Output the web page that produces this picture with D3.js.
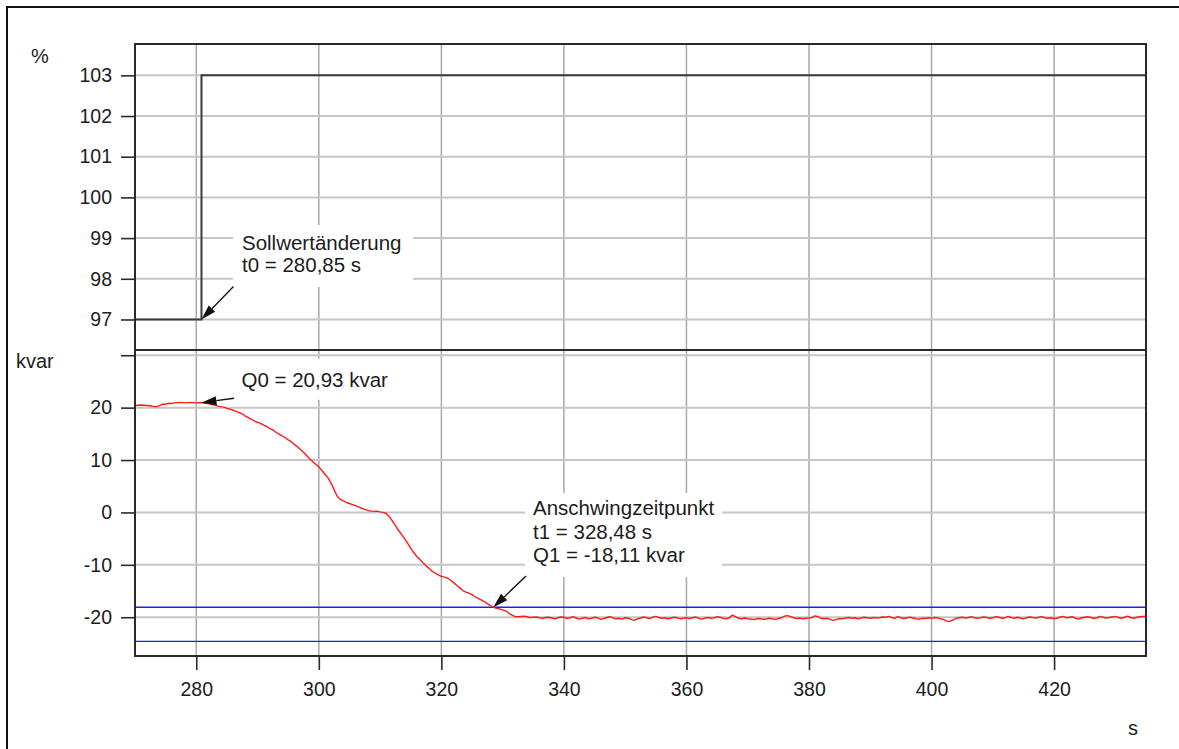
<!DOCTYPE html>
<html>
<head>
<meta charset="utf-8">
<script src="https://cdn.jsdelivr.net/npm/d3@7"></script>
<style>
  html, body { margin: 0; padding: 0; background: #fff; }
  svg { display: block; }
  text { font-family: "Liberation Sans", Arial, Helvetica, sans-serif; fill: #1c1c1c; }
</style>
</head>
<body>
<svg id="chart" width="1179" height="749"></svg>
<script>
// Voltage setpoint (%) – a single step at t0
const setpointTime  = [270, 280.85, 280.85, 435];
const setpointValue = [97, 97, 103, 103];

// Measured reactive power (kvar), sampled every 0.5 s from 270 s
const qStart = 270;
const qPeriod = 0.5;
const qValues = [
  20.4, 20.45, 20.5, 20.45, 20.4, 20.35, 20.25, 20.2, 20.4, 20.65, 20.7, 20.8, 20.8, 20.9, 20.95, 21.0, 20.95, 20.9, 21.0, 20.95,
  20.9, 20.95, 20.93, 20.85, 20.8, 20.6, 20.5, 20.3, 20.2, 20.1, 19.85, 19.7, 19.5, 19.3, 19.05, 18.8, 18.4, 18.1, 17.75, 17.45,
  17.2, 17.0, 16.65, 16.4, 16.0, 15.75, 15.3, 14.95, 14.6, 14.3, 13.85, 13.5, 12.95, 12.55, 12.0, 11.5, 10.85, 10.25, 9.7, 9.2,
  8.7, 8.0, 7.3, 6.6, 5.6, 4.3, 3.1, 2.5, 2.2, 1.9, 1.7, 1.5, 1.3, 1.05, 0.8, 0.6, 0.4, 0.25, 0.2, 0.25,
  0.1, 0.0, -0.2, -0.8, -1.6, -2.5, -3.4, -4.2, -5.0, -5.9, -6.8, -7.7, -8.4, -9.0, -9.6, -10.2, -10.7, -11.2, -11.6, -11.9,
  -12.2, -12.35, -12.55, -12.9, -13.4, -13.9, -14.4, -14.9, -15.2, -15.4, -15.7, -16.1, -16.4, -16.7, -17.0, -17.4, -17.8, -18.11, -18.3, -18.4,
  -18.6, -18.8, -19.2, -19.6, -19.85, -19.9, -19.85, -19.8, -19.9, -20.05, -20.0, -19.95, -20.1, -20.2, -20.05, -20.0, -20.15, -20.3, -20.1, -19.95,
  -20.0, -20.2, -20.1, -19.9, -20.15, -20.35, -20.2, -20.05, -20.3, -20.2, -20.0, -20.1, -20.4, -20.25, -20.05, -19.9, -20.1, -20.3, -20.2, -20.35,
  -20.1, -20.2, -20.4, -20.6, -20.3, -20.15, -19.95, -20.1, -20.25, -20.0, -19.85, -20.05, -20.2, -20.1, -20.3, -20.15, -20.0, -20.1, -20.3, -20.2,
  -20.1, -20.25, -20.1, -19.95, -20.2, -20.35, -20.15, -20.05, -20.2, -20.1, -19.9, -20.0, -20.2, -20.3, -20.1, -19.6, -19.9, -20.2, -20.3, -20.15,
  -20.3, -20.35, -20.45, -20.3, -20.25, -20.4, -20.35, -20.2, -20.3, -20.4, -20.25, -20.1, -19.8, -19.7, -19.9, -20.1, -20.25, -20.15, -20.3, -20.2,
  -20.15, -20.05, -19.75, -19.9, -20.2, -20.3, -20.2, -20.45, -20.6, -20.4, -20.25, -20.3, -20.15, -20.05, -20.2, -20.1, -20.3, -20.15, -20.0, -20.1,
  -20.2, -20.05, -20.15, -20.1, -19.95, -20.0, -19.85, -20.05, -20.2, -19.9, -20.1, -20.25, -20.1, -20.0, -20.15, -20.3, -20.35, -20.2, -20.25, -20.1,
  -20.2, -20.05, -20.1, -20.3, -20.45, -20.75, -20.8, -20.5, -20.2, -20.1, -20.0, -20.15, -20.05, -19.9, -20.1, -20.2, -20.1, -19.95, -20.05, -20.2,
  -20.1, -19.9, -20.0, -20.2, -20.1, -19.85, -20.05, -20.2, -20.0, -20.15, -20.3, -20.1, -19.95, -20.05, -20.15, -20.0, -19.9, -20.1, -20.2, -20.1,
  -20.25, -20.2, -19.95, -19.85, -20.1, -20.0, -19.9, -20.2, -20.35, -20.1, -20.0, -19.9, -20.05, -20.2, -20.1, -19.85, -20.0, -20.15, -20.05, -19.95,
  -19.85, -20.05, -20.2, -20.0, -19.8, -20.05, -20.2, -20.0, -19.9, -19.85, -19.8
];

// Settling band limits (kvar)
const bandLimits = [-18.11, -24.6];

// Marked events
const t0 = 280.85, q0 = 20.93;
const t1 = 328.48, q1 = -18.11;

// Axis ticks
const timeTicks  = [280, 300, 320, 340, 360, 380, 400, 420];
const pctTicks   = [97, 98, 99, 100, 101, 102, 103];
const kvarTicks  = [-20, -10, 0, 10, 20, 30];
const kvarLabels = ["-20", "-10", "0", "10", "20", ""];

// ---------------------------------------------------------------
const svg = d3.select("#chart");
const L = 135, R = 1146, T = 44, MID = 350, B = 656;

const x    = d3.scaleLinear().domain([270, 435]).range([L, R]);
const yPct = d3.scaleLinear().domain([96.25, 103.77]).range([MID, T]);
const yQ   = d3.scaleLinear().domain([-27.4, 31.0]).range([B, MID]);

// Page frame
svg.append("rect")
  .attr("x", 7).attr("y", 7).attr("width", 1300).attr("height", 900)
  .attr("fill", "none").attr("stroke", "#111").attr("stroke-width", 2);

const grid = svg.append("g");
// vertical grid in both panels
grid.selectAll("line.v").data(timeTicks).join("line")
  .attr("x1", d => x(d)).attr("x2", d => x(d))
  .attr("y1", T).attr("y2", B)
  .attr("stroke", "#a9a9a9").attr("stroke-width", 1.5);
// horizontal grid, upper panel
grid.selectAll("line.hp").data(pctTicks).join("line")
  .attr("x1", L).attr("x2", R)
  .attr("y1", d => yPct(d)).attr("y2", d => yPct(d))
  .attr("stroke", "#c6c6c6").attr("stroke-width", 2);
// horizontal grid, lower panel
grid.selectAll("line.hq").data(kvarTicks).join("line")
  .attr("x1", L).attr("x2", R)
  .attr("y1", d => yQ(d)).attr("y2", d => yQ(d))
  .attr("stroke", "#c6c6c6").attr("stroke-width", 2);

// Annotations: white label boxes, arrows and text
const annotations = [
  { tip: [x(t0), yPct(97)], tail: [32, -33], text: [40.5, -69.5], gap: 22,
    box: [31.5, -94.5, 180, 62],
    lines: ["Sollwertänderung", "t0 = 280,85 s"] },
  { tip: [x(t0), yQ(q0)], tail: [32.5, -4.5], text: [40, -16], gap: 22,
    box: [30.5, -44, 168, 41],
    lines: ["Q0 = 20,93 kvar"] },
  { tip: [x(t1), yQ(q1)], tail: [32.7, -31.3], text: [39.7, -92.3], gap: 23.5,
    box: [31.7, -114.3, 197, 84],
    lines: ["Anschwingzeitpunkt", "t1 = 328,48 s", "Q1 = -18,11 kvar"] }
];

svg.append("g").selectAll("rect").data(annotations).join("rect")
  .attr("x", d => d.tip[0] + d.box[0]).attr("y", d => d.tip[1] + d.box[1])
  .attr("width", d => d.box[2]).attr("height", d => d.box[3])
  .attr("fill", "#fff");

// Band limits
svg.append("g").selectAll("line").data(bandLimits).join("line")
  .attr("x1", L).attr("x2", R)
  .attr("y1", d => yQ(d)).attr("y2", d => yQ(d))
  .attr("stroke", "#1f1fff").attr("stroke-width", 1.4);

// Setpoint step
const setpointPts = setpointTime.map((t, i) => [t, setpointValue[i]]);
svg.append("path")
  .datum(setpointPts)
  .attr("fill", "none").attr("stroke", "#3a3a3a").attr("stroke-width", 2)
  .attr("d", d3.line().x(d => x(d[0])).y(d => yPct(d[1])));

// Reactive power
const qPts = qValues.map((v, i) => [qStart + i * qPeriod, v]);
svg.append("path")
  .datum(qPts)
  .attr("fill", "none").attr("stroke", "#ff1a1a").attr("stroke-width", 1.4)
  .attr("stroke-linejoin", "round")
  .attr("d", d3.line().x(d => x(d[0])).y(d => yQ(d[1])));

// Panel frames
const frame = svg.append("g").attr("fill", "none").attr("stroke", "#2a2a2a").attr("stroke-width", 2);
frame.append("rect").attr("x", L).attr("y", T).attr("width", R - L).attr("height", MID - T);
frame.append("rect").attr("x", L).attr("y", MID).attr("width", R - L).attr("height", B - MID);

// Axes
const fontSize = "19.5px";
function styleAxis(g) {
  g.select(".domain").remove();
  g.selectAll(".tick line").attr("stroke", "#2a2a2a").attr("stroke-width", 1.6);
  g.selectAll(".tick text")
    .attr("font-family", "'Liberation Sans', Arial, sans-serif")
    .attr("font-size", fontSize).attr("fill", "#1c1c1c");
}
svg.append("g").attr("transform", `translate(${L},0)`)
  .call(d3.axisLeft(yPct).tickValues(pctTicks).tickSize(14).tickPadding(9).tickFormat(d3.format("d")))
  .call(styleAxis);
svg.append("g").attr("transform", `translate(${L},0)`)
  .call(d3.axisLeft(yQ).tickValues(kvarTicks).tickSize(14).tickPadding(9)
    .tickFormat((d, i) => kvarLabels[i]))
  .call(styleAxis);
svg.append("g").attr("transform", `translate(0,${B})`)
  .call(d3.axisBottom(x).tickValues(timeTicks).tickSize(14).tickPadding(12).tickFormat(d3.format("d")))
  .call(styleAxis);

// Unit labels
const unitFont = "20px";
svg.append("text").attr("x", 31).attr("y", 62.5).attr("font-size", unitFont).text("%");
svg.append("text").attr("x", 16).attr("y", 368).attr("font-size", unitFont).text("kvar");
svg.append("text").attr("x", 1128).attr("y", 735).attr("font-size", unitFont).text("s");

// Arrows and annotation text
const ann = svg.append("g");
annotations.forEach(a => {
  const [tx, ty] = a.tip;
  const sx = tx + a.tail[0], sy = ty + a.tail[1];
  const len = Math.hypot(sx - tx, sy - ty);
  const ux = (sx - tx) / len, uy = (sy - ty) / len;
  const head = 15, half = 4.5;
  const bx = tx + ux * head, by = ty + uy * head;
  ann.append("line")
    .attr("x1", sx).attr("y1", sy).attr("x2", bx).attr("y2", by)
    .attr("stroke", "#111").attr("stroke-width", 1.3);
  ann.append("path")
    .attr("d", d3.line()([[tx, ty], [bx - uy * half, by + ux * half], [bx + uy * half, by - ux * half]]) + "Z")
    .attr("fill", "#111");
  const t = ann.append("text").attr("font-size", "20.5px");
  a.lines.forEach((s, i) => {
    t.append("tspan").attr("x", tx + a.text[0]).attr("y", ty + a.text[1] + i * a.gap).text(s);
  });
});
</script>
</body>
</html>
